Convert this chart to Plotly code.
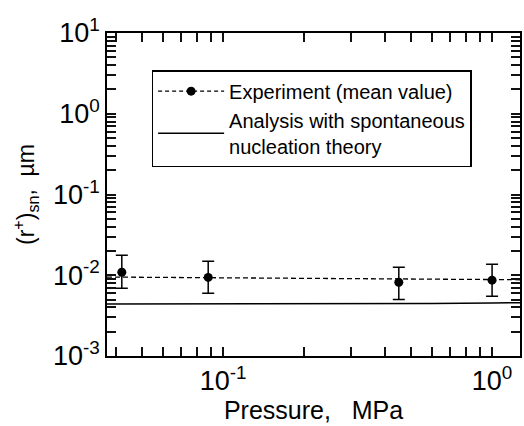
import plotly.graph_objects as go
import numpy as np

pressure_exp = [0.042, 0.088, 0.45, 1.0]          # MPa
r_exp = [0.0109, 0.0094, 0.0082, 0.0087]           # µm
r_err_plus = [0.0068, 0.0055, 0.0044, 0.0050]
r_err_minus = [0.0040, 0.0034, 0.0032, 0.0032]

# Dashed mean line
pressure_mean = [0.037, 1.27]
r_mean = [0.0095, 0.0088]

# Analysis with spontaneous nucleation theory
pressure_th = [0.037, 0.1, 0.3, 0.6, 1.0, 1.27]
r_th = [0.00440, 0.00440, 0.00442, 0.00446, 0.00452, 0.00458]

x_decades = [0.01, 0.1, 1]
y_decades = [0.001, 0.01, 0.1, 1, 10]
exp_label = {0.001: "10<sup>-3</sup>", 0.01: "10<sup>-2</sup>", 0.1: "10<sup>-1</sup>",
             1: "10<sup>0</sup>", 10: "10<sup>1</sup>"}


def log_ticks(decades, labelled):
    vals, texts = [], []
    for d in decades:
        for m in range(1, 10):
            v = m * d
            vals.append(v)
            texts.append(exp_label[d] if (m == 1 and d in labelled) else "")
    return vals, texts


x_tickvals, x_ticktext = log_ticks(x_decades, [0.1, 1])
y_tickvals, y_ticktext = log_ticks(y_decades, y_decades)

FONT = "Liberation Sans, Arial, sans-serif"

fig = go.Figure()
fig.add_trace(go.Scatter(
    x=pressure_mean, y=r_mean, mode="lines",
    line=dict(color="black", width=1.3, dash="5px,3px"),
    showlegend=False, hoverinfo="skip"))
fig.add_trace(go.Scatter(
    x=pressure_exp, y=r_exp, mode="markers",
    name="Experiment (mean value)",
    marker=dict(color="black", size=9),
    error_y=dict(type="data", symmetric=False, array=r_err_plus,
                 arrayminus=r_err_minus, color="black", thickness=1.5, width=6),
    showlegend=False))
# legend proxy for experiment (dashed line + marker)
fig.add_trace(go.Scatter(
    x=[None], y=[None], mode="lines+markers",
    name="Experiment (mean value)",
    line=dict(color="black", width=1.3, dash="4px,3px"),
    marker=dict(color="black", size=9)))
fig.add_trace(go.Scatter(
    x=pressure_th, y=r_th, mode="lines",
    name="Analysis with spontaneous<br>nucleation theory",
    line=dict(color="black", width=1.5)))

fig.update_layout(
    width=524, height=426,
    margin=dict(l=107, r=2, t=33, b=70),
    paper_bgcolor="white", plot_bgcolor="white",
    font=dict(family=FONT, color="black"),
    legend=dict(
        x=0.108, y=0.885, xanchor="left", yanchor="top",
        bgcolor="white", bordercolor="black", borderwidth=1.5,
        font=dict(size=20, family=FONT), itemwidth=66,
        tracegroupgap=0),
)
axis_common = dict(
    ticks="inside", ticklen=9, tickwidth=1.6, tickcolor="#111111",
    showline=True, linecolor="black", linewidth=1.5, mirror="allticks",
    showgrid=False, zeroline=False, layer="above traces",
    tickfont=dict(size=27, family=FONT),
)
fig.update_xaxes(
    type="log", range=[np.log10(0.037), np.log10(1.27)],
    tickmode="array", tickvals=x_tickvals, ticktext=x_ticktext,
    title=dict(text="Pressure,   MPa", font=dict(size=25, family=FONT), standoff=4),
    **axis_common,
)
fig.update_yaxes(
    type="log", range=[-3, 1],
    tickmode="array", tickvals=y_tickvals, ticktext=y_ticktext,
    title=dict(text="(r<sup>+</sup>)<sub>sn</sub>,  µm", font=dict(size=23, family=FONT), standoff=12),
    **axis_common,
)

fig.write_html("out.html")
